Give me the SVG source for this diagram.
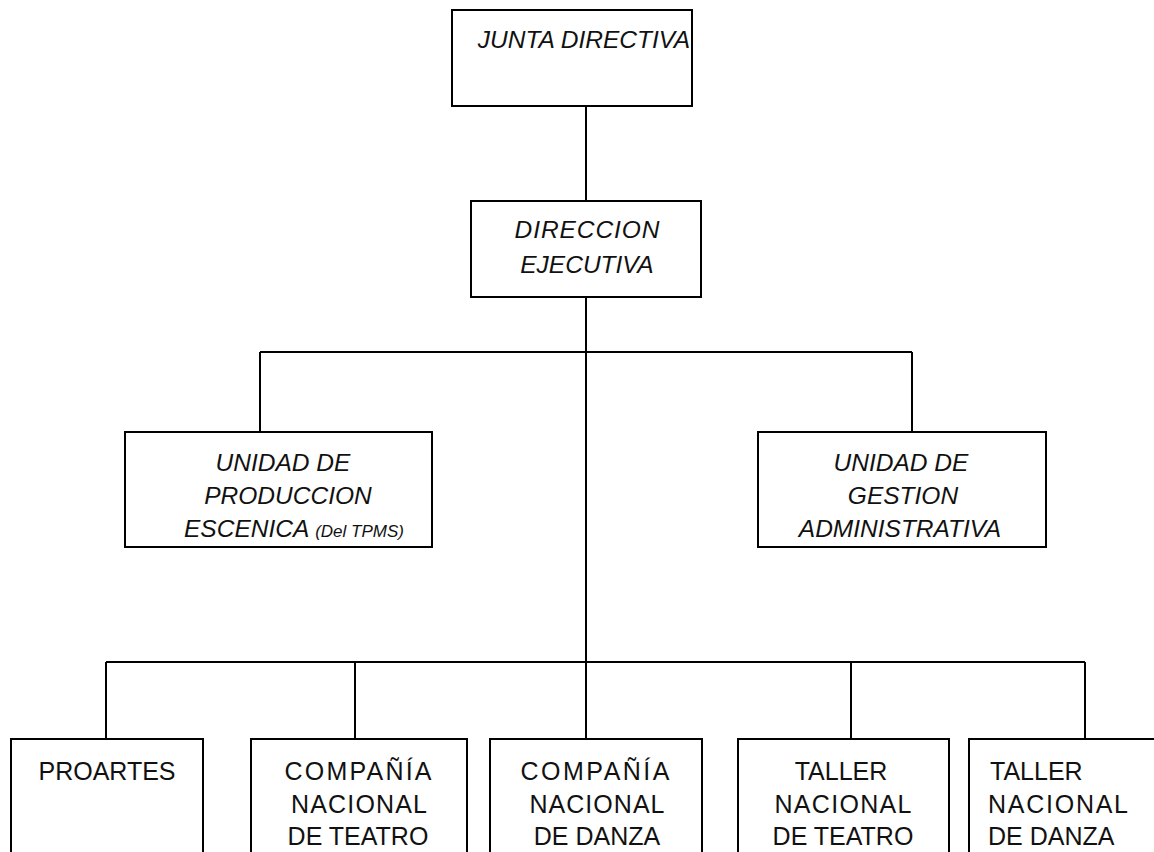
<svg xmlns="http://www.w3.org/2000/svg" width="1154" height="852" viewBox="0 0 1154 852">
<style>
.box{fill:#fff;stroke:#000;stroke-width:2}
.ln{fill:none;stroke:#000;stroke-width:2}
text{font-family:"Liberation Sans",Arial,sans-serif;font-size:25px;fill:#111;text-anchor:middle}
.it{font-style:italic;font-size:24.5px}
.lf{text-anchor:start}
</style>
<rect width="1154" height="852" fill="#fff"/>
<g id="connectors">
<path class="ln" d="M586 106V201M586 297V739M260 352H912M260 352V432M912 352V432M106 662H1085M106 662V739M355 662V739M851 662V739M1085 662V739"/>
</g>
<g id="junta">
<rect class="box" x="452" y="10" width="240" height="96"/>
<text class="it" x="584" y="48">JUNTA DIRECTIVA</text>
</g>
<g id="direccion">
<rect class="box" x="471" y="201" width="230" height="96"/>
<text class="it" x="587" y="238" textLength="145" lengthAdjust="spacing">DIRECCION</text>
<text class="it" x="587" y="273">EJECUTIVA</text>
</g>
<g id="produccion">
<rect class="box" x="125" y="432" width="307" height="115"/>
<text class="it" x="283" y="471">UNIDAD DE</text>
<text class="it" x="288" y="504">PRODUCCION</text>
<text class="it lf" x="184" y="537">ESCENICA <tspan font-size="17">(Del TPMS)</tspan></text>
</g>
<g id="gestion">
<rect class="box" x="758" y="432" width="288" height="115"/>
<text class="it" x="901" y="471">UNIDAD DE</text>
<text class="it" x="903" y="504">GESTION</text>
<text class="it" x="900" y="537">ADMINISTRATIVA</text>
</g>
<g id="proartes">
<rect class="box" x="11" y="739" width="192" height="130"/>
<text x="107" y="780">PROARTES</text>
</g>
<g id="cia-teatro">
<rect class="box" x="251" y="739" width="216" height="130"/>
<text x="358" y="780" textLength="147" lengthAdjust="spacing">COMPAÑÍA</text>
<text x="359" y="813" textLength="136" lengthAdjust="spacing">NACIONAL</text>
<text x="358" y="845">DE TEATRO</text>
</g>
<g id="cia-danza">
<rect class="box" x="490" y="739" width="212" height="130"/>
<text x="595" y="780" textLength="149" lengthAdjust="spacing">COMPAÑÍA</text>
<text x="597" y="813" textLength="135" lengthAdjust="spacing">NACIONAL</text>
<text x="597" y="845">DE DANZA</text>
</g>
<g id="taller-teatro">
<rect class="box" x="738" y="739" width="211" height="130"/>
<text x="841" y="780">TALLER</text>
<text x="843" y="813" textLength="137" lengthAdjust="spacing">NACIONAL</text>
<text x="843" y="845">DE TEATRO</text>
</g>
<g id="taller-danza">
<rect class="box" x="969" y="739" width="200" height="130"/>
<text class="lf" x="990" y="780">TALLER</text>
<text class="lf" x="988" y="813" textLength="140" lengthAdjust="spacing">NACIONAL</text>
<text class="lf" x="988" y="845">DE DANZA</text>
</g>
</svg>
